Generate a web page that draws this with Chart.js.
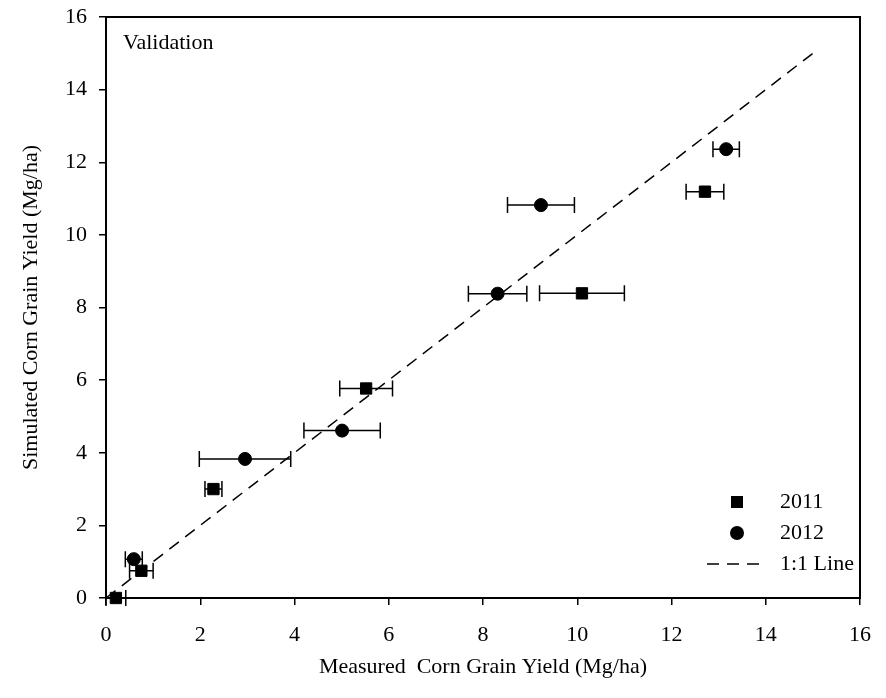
<!DOCTYPE html>
<html>
<head>
<meta charset="utf-8">
<script src="https://cdn.jsdelivr.net/npm/chart.js@4.4.1/dist/chart.umd.min.js"></script>
<style>
  html, body { margin: 0; padding: 0; background: #fff; }
  #wrap { width: 886px; height: 698px; }
</style>
</head>
<body>
<div id="wrap"><canvas id="chart" width="886" height="698"></canvas></div>
<script>
// Data
const measured2011 = [0.21, 0.75, 2.28, 5.52, 10.10, 12.71];
const simulated2011 = [0.00, 0.75, 3.00, 5.77, 8.39, 11.19];
const err2011 = [0.21, 0.25, 0.18, 0.56, 0.90, 0.40];

const measured2012 = [0.59, 2.95, 5.01, 8.31, 9.23, 13.16];
const simulated2012 = [1.07, 3.83, 4.61, 8.38, 10.82, 12.36];
const err2012 = [0.18, 0.97, 0.81, 0.62, 0.71, 0.28];

const oneToOne = [0, 15];
const axisTicks = [0, 2, 4, 6, 8, 10, 12, 14, 16];

const FONT = "'Liberation Serif', 'Times New Roman', serif";

function toPoints(xs, ys) {
    return xs.map((x, i) => ({ x: x, y: ys[i] }));
}

// horizontal error bars, drawn through the chart scales
const errorBars = {
    id: 'errorBars',
    beforeDatasetsDraw(chart) {
        const { ctx, scales: { x, y } } = chart;
        ctx.save();
        ctx.strokeStyle = '#000';
        ctx.lineWidth = 1.5;
        chart.data.datasets.forEach(ds => {
            if (!ds.xErr) return;
            ds.data.forEach((p, i) => {
                const x0 = x.getPixelForValue(p.x - ds.xErr[i]);
                const x1 = x.getPixelForValue(p.x + ds.xErr[i]);
                const py = y.getPixelForValue(p.y);
                ctx.beginPath();
                ctx.moveTo(x0, py); ctx.lineTo(x1, py);
                ctx.moveTo(x0, py - 8); ctx.lineTo(x0, py + 8);
                ctx.moveTo(x1, py - 8); ctx.lineTo(x1, py + 8);
                ctx.stroke();
            });
        });
        ctx.restore();
    }
};

// frame, label and in-plot legend
const decorations = {
    id: 'decorations',
    afterDraw(chart) {
        const { ctx, chartArea: a } = chart;
        ctx.save();
        ctx.strokeStyle = '#000';
        ctx.lineWidth = 2;
        ctx.strokeRect(a.left, a.top, a.right - a.left, a.bottom - a.top);

        ctx.fillStyle = '#000';
        ctx.font = '22px ' + FONT;
        ctx.textBaseline = 'middle';
        ctx.textAlign = 'left';
        ctx.fillText('Validation', a.left + 17, a.top + 26);

        const mx = a.right - 123, tx = a.right - 80;
        const rows = [a.bottom - 96, a.bottom - 65, a.bottom - 34];
        // 2011 square
        ctx.fillRect(mx - 6, rows[0] - 6, 12, 12);
        ctx.fillText('2011', tx, rows[0]);
        // 2012 circle
        ctx.beginPath();
        ctx.arc(mx, rows[1], 7, 0, Math.PI * 2);
        ctx.fill();
        ctx.fillText('2012', tx, rows[1]);
        // 1:1 line
        ctx.lineWidth = 1.5;
        ctx.setLineDash([12, 8]);
        ctx.beginPath();
        ctx.moveTo(mx - 30, rows[2]);
        ctx.lineTo(mx + 24, rows[2]);
        ctx.stroke();
        ctx.setLineDash([]);
        ctx.fillText('1:1 Line', tx, rows[2]);
        ctx.restore();
    }
};

const axisCommon = {
    type: 'linear',
    min: 0,
    max: 16,
    border: { display: true, color: '#000', width: 2 },
    grid: { drawOnChartArea: false, drawTicks: true, tickLength: 7, tickColor: '#000', lineWidth: 1.5 },
    afterBuildTicks: s => { s.ticks = axisTicks.map(v => ({ value: v })); }
};

new Chart(document.getElementById('chart'), {
    type: 'scatter',
    data: {
        datasets: [{
            label: '1:1 Line',
            data: toPoints(oneToOne, oneToOne),
            showLine: true,
            borderColor: '#000',
            borderWidth: 1.5,
            borderDash: [12, 8],
            pointRadius: 0,
            clip: false
        }, {
            label: '2011',
            data: toPoints(measured2011, simulated2011),
            xErr: err2011,
            pointStyle: 'rect',
            pointRadius: 8,
            backgroundColor: '#000',
            borderColor: '#000',
            borderWidth: 1,
            clip: false
        }, {
            label: '2012',
            data: toPoints(measured2012, simulated2012),
            xErr: err2012,
            pointStyle: 'circle',
            pointRadius: 6.5,
            backgroundColor: '#000',
            borderColor: '#000',
            borderWidth: 1,
            clip: false
        }]
    },
    options: {
        responsive: false,
        animation: false,
        layout: { padding: { left: 0, right: 26, top: 17, bottom: 0 } },
        plugins: { legend: { display: false }, tooltip: { enabled: false } },
        scales: {
            x: Object.assign({}, axisCommon, {
                position: 'bottom',
                ticks: { color: '#000', font: { family: FONT, size: 22 }, padding: 17, maxRotation: 0 },
                title: { display: true, text: 'Measured  Corn Grain Yield (Mg/ha)', color: '#000', font: { family: FONT, size: 22 }, padding: { top: 0, bottom: 18 } },
                afterFit: s => { s.height = 100; s.paddingLeft = 0; s.paddingRight = 0; }
            }),
            y: Object.assign({}, axisCommon, {
                position: 'left',
                ticks: { color: '#000', font: { family: FONT, size: 22 }, padding: 12 },
                title: { display: true, text: 'Simulated Corn Grain Yield (Mg/ha)', color: '#000', font: { family: FONT, size: 22 }, padding: { top: 18, bottom: 0 } },
                afterFit: s => { s.width = 106; s.paddingTop = 0; s.paddingBottom = 0; }
            })
        }
    },
    plugins: [errorBars, decorations]
});
</script>
</body>
</html>
